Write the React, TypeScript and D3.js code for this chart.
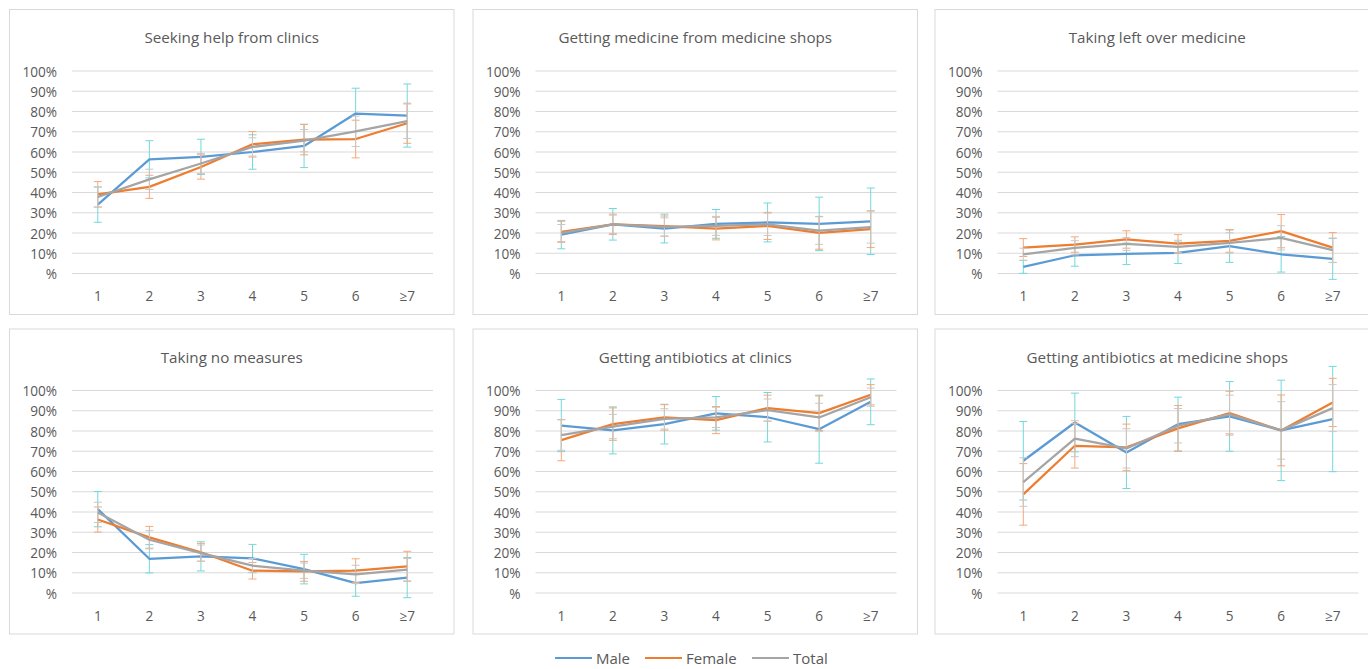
import React from "react";
import * as d3 from "d3";

const categories = ["1", "2", "3", "4", "5", "6", "≥7"];
const yTicks = [0, 10, 20, 30, 40, 50, 60, 70, 80, 90, 100];
const titles = [
  "Seeking help from clinics",
  "Getting medicine from medicine shops",
  "Taking left over medicine",
  "Taking no measures",
  "Getting antibiotics at clinics",
  "Getting antibiotics at medicine shops",
];
const seriesNames = ["Male", "Female", "Total"];

// values in %, error = half length of the error bar
const clinicsMale = [34, 56.4, 57.6, 60, 63, 79, 78];
const clinicsFemale = [39.1, 42.8, 52.6, 63.8, 66.1, 66.4, 74.2];
const clinicsTotal = [37.8, 46.5, 54.3, 62.5, 65.6, 70.2, 75.2];
const clinicsMaleErr = [8.7, 9.2, 8.7, 8.5, 10.7, 12.5, 15.6];
const clinicsFemaleErr = [6.3, 5.7, 6, 6.3, 7.5, 9.3, 9.9];
const clinicsTotalErr = [5, 5, 5, 4.5, 5.5, 7.5, 8.5];

const shopsMale = [19.2, 24.3, 22.2, 24.5, 25.2, 24.5, 25.8];
const shopsFemale = [20.6, 24.3, 23.4, 22.2, 23.5, 20.1, 21.9];
const shopsTotal = [20, 24.3, 23, 23.5, 24.3, 21.2, 22.9];
const shopsMaleErr = [7, 7.8, 7.1, 7.1, 9.6, 13.2, 16.4];
const shopsFemaleErr = [5.2, 5, 5, 5.6, 6.7, 8.1, 9.1];
const shopsTotalErr = [4.2, 4.5, 4.5, 4.7, 5.5, 6.8, 7.9];

const leftoverMale = [3.3, 9, 9.7, 10.2, 13.5, 9.5, 7.2];
const leftoverFemale = [12.8, 14.3, 16.8, 14.8, 16.1, 20.9, 12.8];
const leftoverTotal = [9.5, 12.7, 14.6, 13.2, 15.1, 17.6, 11.5];
const leftoverMaleErr = [3.2, 5.4, 5.3, 5.3, 8, 8.8, 10.1];
const leftoverFemaleErr = [4.4, 3.8, 4.3, 4.4, 5.6, 8.2, 7.4];
const leftoverTotalErr = [3, 3.5, 3.2, 3.2, 5, 6, 6];

const noneMale = [41.4, 16.9, 18.1, 17.1, 11.8, 4.9, 7.6];
const noneFemale = [36.3, 27.5, 20.1, 11, 10.7, 11, 13.2];
const noneTotal = [39.8, 26.3, 19.7, 13.5, 11, 9.2, 11.5];
const noneMaleErr = [8.7, 7, 7.2, 6.9, 7.3, 6.5, 9.9];
const noneFemaleErr = [6.2, 5.4, 4.4, 4.1, 4.9, 5.9, 7.4];
const noneTotalErr = [5, 4.5, 4, 3.5, 3.8, 4.5, 5.5];

const abClinicsMale = [82.7, 80.3, 83.4, 88.7, 86.8, 80.9, 94.4];
const abClinicsFemale = [75.5, 83.4, 86.7, 85.4, 91.3, 88.8, 97.9];
const abClinicsTotal = [78, 82.2, 86, 86.7, 90.3, 86.7, 96.7];
const abClinicsMaleErr = [12.9, 11.6, 9.8, 8.3, 12.2, 16.8, 11.3];
const abClinicsFemaleErr = [10.2, 8, 6.3, 6.7, 6.4, 8.5, 5];
const abClinicsTotalErr = [7.5, 6, 5, 5, 5.5, 7, 4.5];

const abShopsMale = [65.3, 84.2, 69.4, 83.4, 87.2, 80.3, 85.9];
const abShopsFemale = [48.7, 72.7, 71.9, 81.3, 88.8, 80.3, 94.1];
const abShopsTotal = [54.8, 76.2, 71.4, 82.6, 88.2, 80.3, 91.3];
const abShopsMaleErr = [19.4, 14.5, 17.8, 13.3, 17.2, 24.8, 26];
const abShopsFemaleErr = [15.2, 11, 11.5, 11.3, 10.8, 17.5, 11.9];
const abShopsTotalErr = [12, 8.9, 9.7, 8.5, 9.5, 14.2, 11.6];

const panelValues = [
  [clinicsMale, clinicsFemale, clinicsTotal],
  [shopsMale, shopsFemale, shopsTotal],
  [leftoverMale, leftoverFemale, leftoverTotal],
  [noneMale, noneFemale, noneTotal],
  [abClinicsMale, abClinicsFemale, abClinicsTotal],
  [abShopsMale, abShopsFemale, abShopsTotal],
];
const panelErrors = [
  [clinicsMaleErr, clinicsFemaleErr, clinicsTotalErr],
  [shopsMaleErr, shopsFemaleErr, shopsTotalErr],
  [leftoverMaleErr, leftoverFemaleErr, leftoverTotalErr],
  [noneMaleErr, noneFemaleErr, noneTotalErr],
  [abClinicsMaleErr, abClinicsFemaleErr, abClinicsTotalErr],
  [abShopsMaleErr, abShopsFemaleErr, abShopsTotalErr],
];

const lineColors = ["#5B9BD5", "#ED7D31", "#A5A5A5"];
const errColors = ["#72D8DC", "#F6A878", "#C8C8C8"];
const textColor = "#595959";
const font = "'Open Sans', 'Liberation Sans', sans-serif";

const colX = [9.5, 473, 935];
const rowY = [9.5, 329];
const panelW = 444.5;
const panelH = 305;

function Panel({ idx }: { idx: number }) {
  const x0 = colX[idx % 3];
  const y0 = rowY[Math.floor(idx / 3)];
  const left = x0 + 62.5;
  const right = x0 + panelW - 21;
  const top = y0 + 61.5;
  const bottom = y0 + 264;

  const x = d3.scalePoint<string>().domain(categories).range([left, right]).padding(0.5);
  const y = d3.scaleLinear().domain([0, 100]).range([bottom, top]);
  const line = d3
    .line<number>()
    .x((_, i) => x(categories[i]) as number)
    .y((d) => y(d));

  const vals = panelValues[idx];
  const errs = panelErrors[idx];

  return (
    <g>
      <rect x={x0} y={y0} width={panelW} height={panelH} fill="#fff" stroke="#D9D9D9" strokeWidth={1} />
      <text
        x={x0 + panelW / 2}
        y={y0 + 27.5}
        textAnchor="middle"
        dominantBaseline="central"
        fontSize={15.2}
        fill={textColor}
      >
        {titles[idx]}
      </text>
      {yTicks.map((t) => (
        <g key={t}>
          <line x1={left} x2={right} y1={y(t)} y2={y(t)} stroke="#D9D9D9" strokeWidth={1} />
          <text
            x={left - 15}
            y={y(t)}
            textAnchor="end"
            dominantBaseline="central"
            fontSize={13.6}
            fill={textColor}
          >
            {t === 0 ? "%" : t + "%"}
          </text>
        </g>
      ))}
      {categories.map((c) => (
        <text
          key={c}
          x={x(c)}
          y={y0 + 286}
          textAnchor="middle"
          dominantBaseline="central"
          fontSize={13.6}
          fill={textColor}
        >
          {c}
        </text>
      ))}
      {vals.map((v, s) => (
        <g key={s}>
          {v.map((d, i) => {
            const cx = x(categories[i]) as number;
            const hi = y(d + errs[s][i]);
            const lo = y(d - errs[s][i]);
            return (
              <g key={i} stroke={errColors[s]} strokeWidth={1}>
                <line x1={cx} x2={cx} y1={hi} y2={lo} />
                <line x1={cx - 4} x2={cx + 4} y1={hi} y2={hi} />
                <line x1={cx - 4} x2={cx + 4} y1={lo} y2={lo} />
              </g>
            );
          })}
          <path d={line(v) || ""} fill="none" stroke={lineColors[s]} strokeWidth={2.25} strokeLinejoin="round" />
        </g>
      ))}
    </g>
  );
}

function Legend() {
  const starts = [555, 645, 752];
  const cy = 658;
  return (
    <g>
      {seriesNames.map((n, i) => (
        <g key={n}>
          <line x1={starts[i]} x2={starts[i] + 37} y1={cy} y2={cy} stroke={lineColors[i]} strokeWidth={2} />
          <text x={starts[i] + 41} y={cy} dominantBaseline="central" fontSize={15} fill={textColor}>
            {n}
          </text>
        </g>
      ))}
    </g>
  );
}

export default function App() {
  return (
    <svg
      width={1368}
      height={669}
      style={{ position: "absolute", left: 0, top: 0, background: "#fff" }}
      fontFamily={font}
    >
      <rect width={1368} height={669} fill="#fff" />
      {titles.map((_, i) => (
        <Panel key={i} idx={i} />
      ))}
      <Legend />
    </svg>
  );
}
